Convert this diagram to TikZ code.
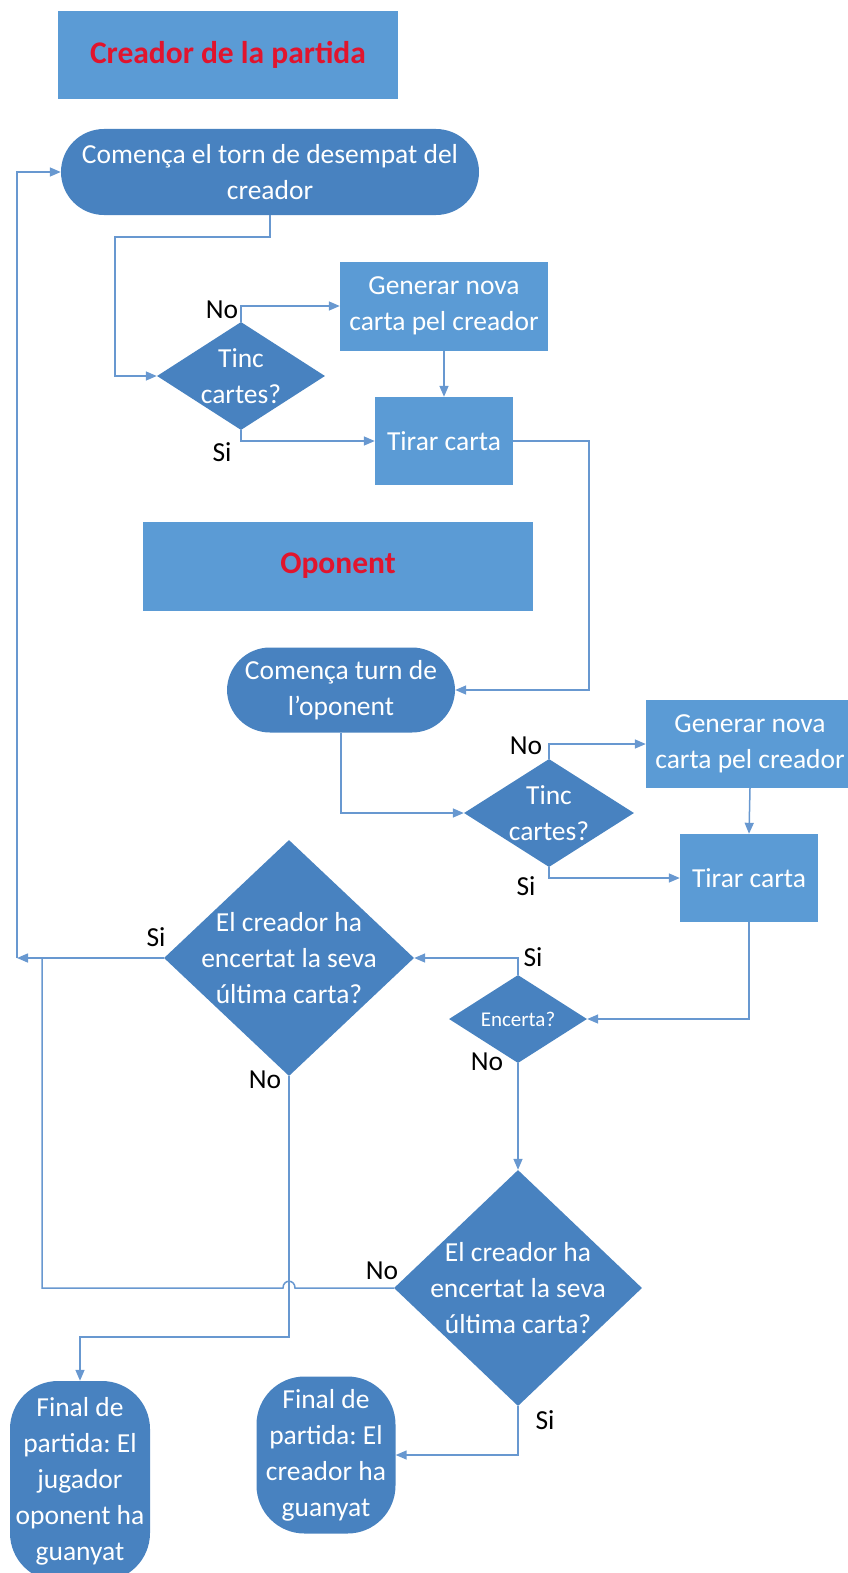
\documentclass[tikz,border=0pt]{standalone}
\usepackage{fontspec}
\setmainfont{Carlito}
\frenchspacing
\usetikzlibrary{arrows.meta,shapes.geometric}
\definecolor{boxblue}{RGB}{91,155,213}
\definecolor{darkblue}{RGB}{72,130,192}
\definecolor{lineblue}{RGB}{104,152,208}
\definecolor{titlered}{RGB}{225,20,45}

\begin{document}
\begin{tikzpicture}[x=1pt,y=-1pt,
	titlebox/.style={rectangle, fill=boxblue, inner sep=0pt, text=titlered, font=\fontsize{31.5}{36}\selectfont\bfseries},
	act/.style={rectangle, fill=boxblue, inner sep=0pt, text=white, align=center, font=\fontsize{27.5}{36}\selectfont},
	term/.style={rectangle, rounded corners=#1, fill=darkblue, inner sep=0pt, text=white, align=center, font=\fontsize{27.5}{36}\selectfont},
	term/.default=43pt,
	dia/.style={diamond, fill=darkblue, inner sep=0pt},
	dtxt/.style={text=white, align=center, font=\fontsize{27.5}{36}\selectfont},
	lab/.style={text=black, font=\fontsize{27.5}{33}\selectfont},
	conn/.style={draw=lineblue, line width=1.5pt},
	arr/.style={conn, -{Triangle[length=11pt,width=9pt]}}]
		\useasboundingbox (0,0) rectangle (847,1573);

		% creador
		\node[titlebox, minimum width=340pt, minimum height=88pt] (title1) at (228,55) {Creador de la partida};
		\node[term, minimum width=418pt, minimum height=86pt] (start1) at (270,172) {Comença el torn de desempat del\\creador};
		\node[dia, minimum width=168pt, minimum height=108pt, label={[dtxt]center:{Tinc\\cartes?}}] (d1) at (241,376) {};
		\node[act, minimum width=208pt, minimum height=89pt] (gen1) at (444,306) {Generar nova\\carta pel creador};
		\node[act, minimum width=138pt, minimum height=88pt] (tir1) at (444,441) {Tirar carta};
		\node[lab] (no1) at (222,310) {No};
		\node[lab] (si1) at (222,452) {Si};

		% oponent
		\node[titlebox, minimum width=390pt, minimum height=89pt] (title2) at (338,566) {Oponent};
		\node[term, minimum width=228pt, minimum height=85pt] (start2) at (341,690) {Comença turn de\\l’oponent};
		\node[dia, minimum width=170pt, minimum height=108pt, label={[dtxt]center:{Tinc\\cartes?}}] (d2) at (549,813) {};
		\node[act, minimum width=208pt, minimum height=88pt] (gen2) at (750,744) {Generar nova\\carta pel creador};
		\node[act, minimum width=138pt, minimum height=88pt] (tir2) at (749,878) {Tirar carta};
		\node[lab] (no2) at (526,746) {No};
		\node[lab] (si2) at (526,886) {Si};

		\node[dia, minimum width=138pt, minimum height=88pt, label={[dtxt, font=\fontsize{21}{25}\selectfont]center:{Encerta?}}] (enc) at (518,1019) {};
		\node[dia, minimum width=250pt, minimum height=236pt, label={[dtxt]center:{El creador ha\\encertat la seva\\última carta?}}] (dA) at (289,958) {};
		\node[dia, minimum width=248pt, minimum height=236pt, label={[dtxt]center:{El creador ha\\encertat la seva\\última carta?}}] (dB) at (518,1288) {};
		\node[lab] (si3) at (533,957) {Si};
		\node[lab] (no3) at (487,1062) {No};
		\node[lab] (si4) at (156,937) {Si};
		\node[lab] (no4) at (265,1080) {No};
		\node[lab] (no5) at (382,1271) {No};
		\node[lab] (si5) at (545,1420) {Si};

		\node[term=48pt, minimum width=140pt, minimum height=200pt] (fin1) at (80,1481) {Final de\\partida: El\\jugador\\oponent ha\\guanyat};
		\node[term=48pt, minimum width=139pt, minimum height=157pt] (fin2) at (326,1455) {Final de\\partida: El\\creador ha\\guanyat};

		\coordinate (loopc) at (17,958);

		\draw[arr] (start1.south) -- ++(0,22) -| ([xshift=-42pt]d1.west) -- (d1.west);
		\draw[arr] (d1.north) |- (gen1.west);
		\draw[arr] (gen1.south) -- (tir1.north);
		\draw[arr] (d1.south) |- (tir1.west);
		\draw[arr] (tir1.east) -- ++(76,0) |- (start2.east);

		\draw[arr] (start2.south) |- (d2.west);
		\draw[arr] (d2.north) |- (gen2.west);
		\draw[arr] (gen2.south) -- (tir2.north);
		\draw[arr] (d2.south) |- (tir2.west);
		\draw[arr] (tir2.south) |- (enc.east);

		\draw[arr] (enc.north) |- (dA.east);
		\draw[arr] (enc.south) -- (dB.north);
		\draw[arr] (dA.west) -- (loopc);
		\draw[arr] (loopc) |- (start1.west);
		\draw[conn] (dB.west) -- (295,1288) .. controls (295,1279) and (283,1279) .. (283,1288) -- (42,1288) -- (42,958);
		\draw[arr] (dA.south) -- (289,1337) -| (fin1.north);
		\draw[arr] (dB.south) |- (fin2.east);

	\end{tikzpicture}
\end{document}
